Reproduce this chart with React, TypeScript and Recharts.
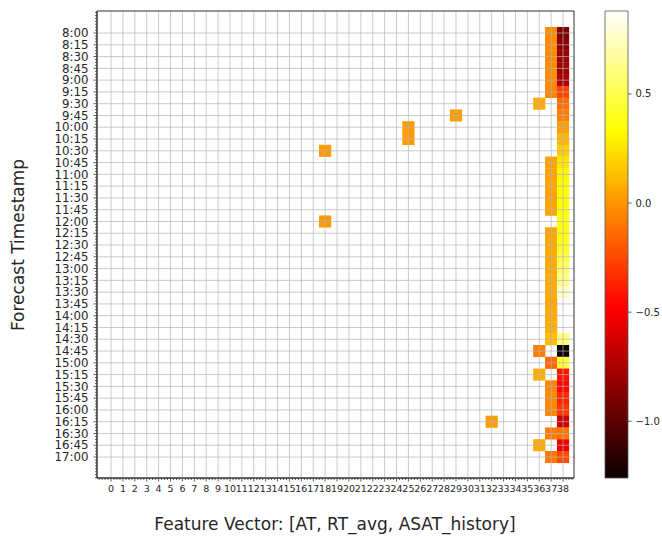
import React from 'react';
import { ScatterChart, Scatter, XAxis, YAxis, ReferenceLine, ReferenceArea, ComposedChart } from 'recharts';

// ---------------- data ----------------
const FEATURES = [0, 1, 2, 3, 4, 5, 6, 7, 8, 9, 10, 11, 12, 13, 14, 15, 16, 17, 18, 19, 20, 21, 22, 23, 24, 25, 26, 27, 28, 29, 30, 31, 32, 33, 34, 35, 36, 37, 38];

const TIME_LABELS = [
  '8:00', '8:15', '8:30', '8:45', '9:00', '9:15', '9:30', '9:45',
  '10:00', '10:15', '10:30', '10:45', '11:00', '11:15', '11:30', '11:45',
  '12:00', '12:15', '12:30', '12:45', '13:00', '13:15', '13:30', '13:45',
  '14:00', '14:15', '14:30', '14:45', '15:00', '15:15', '15:30', '15:45',
  '16:00', '16:15', '16:30', '16:45', '17:00',
];

// feature 37, one value per timestamp (null = no value)
const COL37: (number | null)[] = [
  -0.03, -0.03, -0.04, -0.03, -0.03, -0.05, null, null, null, null, null,
  0.04, 0.04, 0.05, 0.04, 0.05, null,
  0.05, 0.06, 0.06, 0.06, 0.07, 0.07, 0.06, 0.07, 0.08, 0.13,
  null, -0.15, null, -0.05, -0.04, -0.05, null, -0.08, null, -0.1,
];

// feature 38, one value per timestamp
const COL38: (number | null)[] = [
  -0.88, -0.84, -0.8, -0.79, -0.74, -0.26, -0.13, -0.07, 0.03, 0.11, 0.18,
  0.26, 0.31, 0.33, 0.34, 0.36, 0.37, 0.38, 0.4, 0.48, 0.56, 0.64, 0.76,
  null, null, null, 0.6, -1.26, 0.45, -0.42, -0.46, -0.36, -0.3, -0.64, -0.1, -0.53, -0.24,
];

// sparse cells: [feature, timestamp index, value]
const OTHER_CELLS: [number, number, number][] = [
  [36, 6, 0.07],
  [29, 7, 0.02],
  [25, 8, 0.02],
  [25, 9, 0.02],
  [18, 10, 0.01],
  [18, 16, 0.01],
  [36, 27, -0.08],
  [36, 29, 0.08],
  [32, 33, 0.02],
  [36, 35, 0.07],
];

const VMIN = -1.26;
const VMAX = 0.88;
const CBAR_TICKS = [-1.0, -0.5, 0.0, 0.5];

// ---------------- layout ----------------
const W = 662;
const H = 537;
const MARGIN = { top: 11, right: 88, bottom: 29, left: 37 };
const YAXIS_W = 60;
const XAXIS_H = 30;
const X_MIN = -1.18;
const X_MAX = 38.92;
const Y_MIN = -1.87;
const Y_MAX = 37.78;
const PLOT_W = W - MARGIN.left - MARGIN.right - YAXIS_W;
const PLOT_H = H - MARGIN.top - MARGIN.bottom - XAXIS_H;
const CELL_W = PLOT_W / (X_MAX - X_MIN);
const CELL_H = PLOT_H / (Y_MAX - Y_MIN);
const FONT = "'DejaVu Sans', Verdana, sans-serif";
const TEXT = '#262626';
const AXIS = '#333333';
const GRID = '#b4b4b4';

// ---------------- colormap (matplotlib "hot") ----------------
const hotRGB = (f: number): [number, number, number] => {
  const t = Math.max(0, Math.min(1, f));
  const a = 0.365079;
  const b = 0.746032;
  const r = t < a ? 0.0416 + (1 - 0.0416) * (t / a) : 1;
  const g = t < a ? 0 : t < b ? (t - a) / (b - a) : 1;
  const bl = t < b ? 0 : (t - b) / (1 - b);
  return [r, g, bl];
};
const toHex = (c: [number, number, number]) =>
  '#' + c.map((x) => Math.round(x * 255).toString(16).padStart(2, '0')).join('');
const hot = (v: number) => toHex(hotRGB((v - VMIN) / (VMAX - VMIN)));

// ---------------- build series ----------------
type Cell = { x: number; y: number; v: number };
const cells: Cell[] = [];
OTHER_CELLS.forEach(([x, y, v]) => cells.push({ x, y, v }));
COL37.forEach((v, i) => { if (v !== null) cells.push({ x: 37, y: i, v }); });
COL38.forEach((v, i) => { if (v !== null) cells.push({ x: 38, y: i, v }); });

const quarterTicks = (lo: number, hi: number) => {
  const out: number[] = [];
  for (let k = Math.ceil(lo * 4); k <= Math.floor(hi * 4); k++) out.push(k / 4);
  return out;
};
const X_TICKS = quarterTicks(X_MIN, X_MAX);
const Y_TICKS = quarterTicks(Y_MIN, Y_MAX);
const isMajorX = (v: number) => FEATURES.includes(v);
const isMajorY = (v: number) => Number.isInteger(v) && v >= 0 && v < TIME_LABELS.length;

const CellShape = (props: any) => {
  const { cx, cy, payload } = props;
  if (cx == null || cy == null) return null;
  return (
    <rect
      x={cx - CELL_W / 2 - 0.15}
      y={cy - CELL_H / 2 - 0.15}
      width={CELL_W + 0.3}
      height={CELL_H + 0.3}
      fill={hot(payload.v)}
    />
  );
};

const XTick = (props: any) => {
  const { x, y, payload } = props;
  const v = payload.value;
  const major = isMajorX(v);
  return (
    <g>
      <line x1={x} x2={x} y1={y} y2={y + (major ? 3.5 : 2)} stroke={AXIS} strokeWidth={0.8} />
      {major && (
        <text x={x} y={y + 7} dy="0.71em" textAnchor="middle" fontSize={9.5} fontFamily={FONT} fill={TEXT}>
          {String(v)}
        </text>
      )}
    </g>
  );
};

const YTick = (props: any) => {
  const { x, y, payload } = props;
  const v = payload.value;
  const major = isMajorY(v);
  return (
    <g>
      <line x1={x - (major ? 3.5 : 2)} x2={x} y1={y} y2={y} stroke={AXIS} strokeWidth={0.8} />
      {major && (
        <text x={x - 8.5} y={y} dy="0.355em" textAnchor="end" fontSize={11.8} fontFamily={FONT} fill={TEXT}>
          {TIME_LABELS[v]}
        </text>
      )}
    </g>
  );
};

const fmtCbar = (v: number) => v.toFixed(1).replace('-', '\u2212');

export default function App() {
  return (
    <div style={{ position: 'absolute', left: 0, top: 0, width: W, height: H, background: '#fff', fontFamily: FONT }}>
      <ScatterChart width={W} height={H} margin={MARGIN}>
        <XAxis
          type="number"
          dataKey="x"
          domain={[X_MIN, X_MAX]}
          allowDataOverflow
          ticks={X_TICKS}
          interval={0}
          tick={<XTick />}
          tickLine={false}
          tickSize={0}
          tickMargin={0}
          height={XAXIS_H}
          axisLine={{ stroke: AXIS }}
        />
        <YAxis
          type="number"
          dataKey="y"
          domain={[Y_MIN, Y_MAX]}
          allowDataOverflow
          reversed
          ticks={Y_TICKS}
          interval={0}
          tick={<YTick />}
          tickLine={false}
          tickSize={0}
          tickMargin={0}
          width={YAXIS_W}
          axisLine={{ stroke: AXIS }}
        />
        <Scatter data={cells} shape={CellShape} isAnimationActive={false} />
        {FEATURES.map((c) => (
          <ReferenceLine key={'gx' + c} x={c} stroke={GRID} strokeOpacity={0.7} strokeWidth={1} zIndex={700} />
        ))}
        {TIME_LABELS.map((t, i) => (
          <ReferenceLine key={'gy' + t} y={i} stroke={GRID} strokeOpacity={0.7} strokeWidth={1} zIndex={700} />
        ))}
        <ReferenceArea
          x1={X_MIN}
          x2={X_MAX}
          y1={Y_MIN}
          y2={Y_MAX}
          fill="none"
          fillOpacity={0}
          stroke={AXIS}
          strokeWidth={1}
          zIndex={800}
        />
      </ScatterChart>

      <div style={{ position: 'absolute', left: 590, top: 0 }}>
        <ComposedChart width={72} height={H} margin={{ top: 11, right: 0, bottom: 59, left: 15 }} data={[{ x: 0.5, y: 0 }]}>
          <defs>
            <linearGradient id="hotcbar" x1="0" y1="1" x2="0" y2="0">
              <stop offset="0" stopColor={toHex(hotRGB(0))} />
              <stop offset="0.365079" stopColor={toHex(hotRGB(0.365079))} />
              <stop offset="0.746032" stopColor={toHex(hotRGB(0.746032))} />
              <stop offset="1" stopColor={toHex(hotRGB(1))} />
            </linearGradient>
          </defs>
          <XAxis type="number" dataKey="x" domain={[0, 1]} hide />
          <YAxis
            type="number"
            orientation="right"
            domain={[VMIN, VMAX]}
            allowDataOverflow
            ticks={CBAR_TICKS}
            interval={0}
            tickFormatter={fmtCbar}
            tick={{ fontSize: 10, fill: TEXT, fontFamily: FONT }}
            tickLine={{ stroke: AXIS, strokeWidth: 0.8 }}
            tickSize={3.5}
            tickMargin={4}
            axisLine={false}
            width={34}
          />
          <ReferenceArea
            x1={0}
            x2={1}
            y1={VMIN}
            y2={VMAX}
            fill="url(#hotcbar)"
            fillOpacity={1}
            stroke="#555"
            strokeWidth={0.8}
          />
        </ComposedChart>
      </div>

      <div
        style={{
          position: 'absolute',
          left: 18,
          top: 245,
          transform: 'translate(-50%, -50%) rotate(-90deg)',
          whiteSpace: 'nowrap',
          fontSize: 17,
          fontFamily: FONT,
          color: TEXT,
          lineHeight: 1,
        }}
      >
        Forecast Timestamp
      </div>
      <div
        style={{
          position: 'absolute',
          left: 335,
          top: 524,
          transform: 'translate(-50%, -50%)',
          whiteSpace: 'nowrap',
          fontSize: 17,
          fontFamily: FONT,
          color: TEXT,
          lineHeight: 1,
        }}
      >
        Feature Vector: [AT, RT_avg, ASAT_history]
      </div>
    </div>
  );
}
